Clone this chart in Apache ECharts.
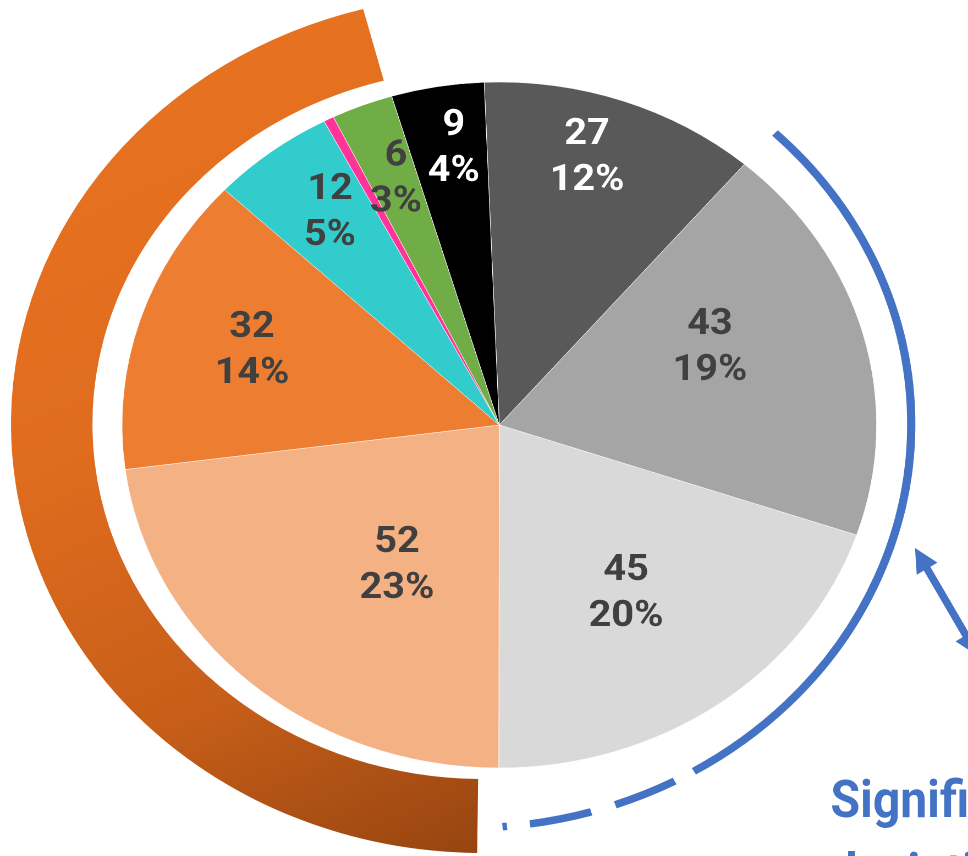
<!DOCTYPE html>
<html>
<head>
<meta charset="utf-8">
<script src="https://cdn.jsdelivr.net/npm/echarts@6/dist/echarts.min.js"></script>
<style>
html,body{margin:0;padding:0;background:#ffffff;overflow:hidden;}
#chart{width:880px;height:856px;transform:scaleX(1.1);transform-origin:0 0;}
</style>
</head>
<body>
<div id="chart"></div>
<script>
// ---------- data ----------
const categories = ['A', 'B', 'C', 'D', 'E', 'F', 'G', 'H', 'I'];
const values = [27, 43, 45, 52, 32, 12, 1, 6, 9];
const sliceColors = ['#595959', '#A5A5A5', '#D9D9D9', '#F4B183', '#ED7D31', '#33CCCC', '#FF3399', '#70AD47', '#000000'];
const labelColors = ['#FFFFFF', '#404040', '#404040', '#404040', '#404040', '#404040', '#404040', '#404040', '#FFFFFF'];
const hiddenLabels = [6];
const annotationLines = ['Significant', 'deviation'];

// ---------- layout (unstretched coordinates; page is scaled 1.1 horizontally) ----------
const SX = 1.1;
const CX = 453.9, CY = 425, R = 343;
const START_CW = -2.3;              // first slice boundary, degrees clockwise from 12 o'clock
const labelRatio = [0.821, 0.605, 0.589, 0.485, 0.693, 0.771, 0, 0.774, 0.822];
const labelShift = [-2.66, -7.28, 0.84, -7.3, 1.0, 1.6, 0, 0.6, 1.0];
const LABEL_DY = 3;

const total = values.reduce((a, b) => a + b, 0);
const cum = [];
let acc = 0;
values.forEach(v => { cum.push(acc); acc += v; });
const degPer = 360 / total;
const angAt = u => START_CW + u * degPer;
const rad = d => (d - 90) * Math.PI / 180;   // clockwise-from-top degrees -> zrender radians

function polar(cx, cy, phi, r) {
  const t = phi * Math.PI / 180;
  return [cx + r * Math.sin(t), cy - r * Math.cos(t)];
}
const mapPt = p => [p[0] / SX, p[1]];  // stretched page px -> chart px

// blue double arrow, defined in page pixels then mapped
function arrowShapes(p, q, headLen, headHalf, width, color) {
  const dx = q[0] - p[0], dy = q[1] - p[1];
  const L = Math.hypot(dx, dy);
  const ux = dx / L, uy = dy / L, nx = -uy, ny = ux;
  const b1 = [p[0] + ux * headLen, p[1] + uy * headLen];
  const b2 = [q[0] - ux * headLen, q[1] - uy * headLen];
  const head = (tip, base) => [tip, [base[0] + nx * headHalf, base[1] + ny * headHalf], [base[0] - nx * headHalf, base[1] - ny * headHalf]].map(mapPt);
  const a = mapPt([b1[0] - ux * 2, b1[1] - uy * 2]), b = mapPt([b2[0] + ux * 2, b2[1] + uy * 2]);
  return [
    { type: 'line', silent: true, shape: { x1: a[0], y1: a[1], x2: b[0], y2: b[1] }, style: { stroke: color, lineWidth: width } },
    { type: 'polygon', silent: true, shape: { points: head(p, b1) }, style: { fill: color } },
    { type: 'polygon', silent: true, shape: { points: head(q, b2) }, style: { fill: color } }
  ];
}

const chart = echarts.init(document.getElementById('chart'), null, { renderer: 'canvas', devicePixelRatio: 2 });

const orangeGradient = new echarts.graphic.LinearGradient(0, 0, 1, 1, [
  { offset: 0, color: '#EA7421' },
  { offset: 0.45, color: '#E06C1E' },
  { offset: 0.75, color: '#C65E19' },
  { offset: 1, color: '#974511' }
]);

const BLUE = '#4472C4';
const ORANGE_C = [439, 424], ORANGE_R = [355, 429];
const BLUE_C = [424.4, 424], BLUE_R = 404;

const option = {
  backgroundColor: '#ffffff',
  animation: false,
  tooltip: { show: false },
  series: [{
    type: 'pie',
    center: [CX, CY],
    radius: R,
    startAngle: 90 - START_CW,
    clockwise: true,
    percentPrecision: 0,
    avoidLabelOverlap: false,
    emphasis: { disabled: true },
    itemStyle: { borderColor: '#ffffff', borderWidth: 0.5 },
    label: {
      show: true,
      position: 'inside',
      formatter: '{c}\n{d}%',
      fontFamily: 'Roboto',
      fontWeight: 'bold',
      fontSize: 36,
      lineHeight: 46
    },
    labelLine: { show: false },
    labelLayout: function (p) {
      const i = p.dataIndex;
      const phi = angAt(cum[i] + values[i] / 2) + labelShift[i];
      const pt = polar(CX, CY, phi, labelRatio[i] * R);
      return { x: pt[0], y: pt[1] + LABEL_DY, align: 'center', verticalAlign: 'middle' };
    },
    data: values.map((v, i) => ({
      name: categories[i],
      value: v,
      itemStyle: { color: sliceColors[i] },
      label: { color: labelColors[i], show: hiddenLabels.indexOf(i) < 0 }
    }))
  }],
  graphic: [
    {
      type: 'sector', silent: true, z: -1,
      shape: { cx: ORANGE_C[0], cy: ORANGE_C[1], r0: ORANGE_R[0], r: ORANGE_R[1], startAngle: rad(180.7), endAngle: rad(345.3), clockwise: true },
      style: { fill: orangeGradient }
    },
    {
      type: 'arc', silent: true,
      shape: { cx: BLUE_C[0], cy: BLUE_C[1], r: BLUE_R, startAngle: rad(43.9), endAngle: rad(175.4), clockwise: true },
      style: { stroke: BLUE, lineWidth: 7.5, fill: null, lineCap: 'butt', lineDash: [743, 20, 59, 23, 57, 21, 10] }
    },
    ...arrowShapes([915, 548], [978, 656], 24, 12, 7, BLUE),
    {
      type: 'text', silent: true, x: 755, y: 804, scaleX: 0.84, originX: 0, originY: 0,
      style: { x: 0, y: 0, text: annotationLines[0], fill: BLUE, font: 'bold 52px Roboto', textAlign: 'left', verticalAlign: 'middle' }
    },
    {
      type: 'text', silent: true, x: 755, y: 877, scaleX: 0.84, originX: 0, originY: 0,
      style: { x: 0, y: 0, text: annotationLines[1], fill: BLUE, font: 'bold 52px Roboto', textAlign: 'left', verticalAlign: 'middle' }
    }
  ]
};
chart.setOption(option);
</script>
</body>
</html>
